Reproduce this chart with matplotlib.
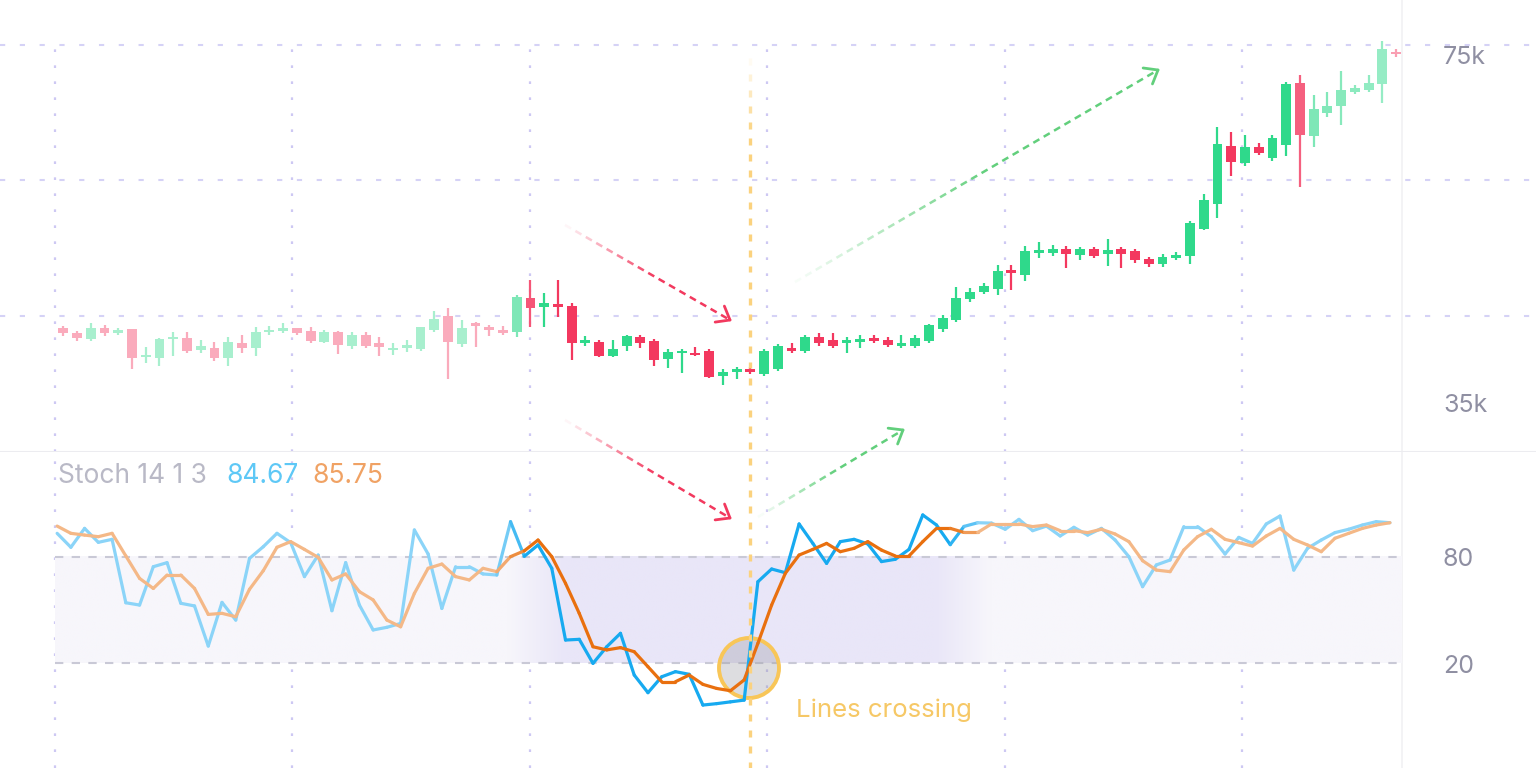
import numpy as np
import matplotlib
matplotlib.use("Agg")
import matplotlib.pyplot as plt
from matplotlib.collections import LineCollection
from matplotlib.patches import Ellipse
from matplotlib.lines import Line2D
from matplotlib.colors import to_rgb
from matplotlib import transforms

plt.rcParams['font.family'] = ['Inter', 'DejaVu Sans']

# ---- data (prices in thousands) ----
opens = [43.63, 43.14, 42.44, 43.63, 43.14, 43.58, 40.41, 40.34, 42.44, 42.59,
         41.22, 41.48, 40.34, 42.03, 41.41, 43.22, 43.36, 43.63, 43.36, 42.14,
         43.22, 41.67, 42.89, 42.03, 41.22, 41.45, 41.33, 43.44, 44.99, 41.89,
         44.18, 43.74, 43.44, 43.25, 46.95, 46.02, 46.28, 46.10, 42.03, 42.14,
         40.59, 41.67, 42.63, 42.25, 40.19, 40.86, 40.92, 41.11, 38.34, 38.82,
         39.09, 38.56, 39.09, 41.48, 41.15, 42.63, 42.33, 41.97, 42.14, 42.52,
         42.33, 41.75, 41.67, 42.25, 43.51, 44.55, 46.84, 47.68, 47.95, 50.08,
         49.53, 52.00, 51.93, 52.44, 51.74, 52.44, 51.85, 52.44, 52.22, 51.26,
         50.74, 51.48, 51.63, 54.58, 57.39, 63.81, 61.96, 63.74, 62.45, 63.92,
         70.76, 64.92, 67.43, 68.24, 69.83, 70.01, 70.68, 74.26]
closes = [43.07, 42.52, 43.63, 43.07, 43.36, 40.30, 40.67, 42.41, 42.70, 41.15,
          41.67, 40.30, 42.11, 41.48, 43.22, 43.44, 43.58, 43.07, 42.25, 43.22,
          41.78, 42.89, 41.67, 41.52, 41.45, 41.75, 43.74, 44.69, 42.08, 43.66,
          43.96, 43.44, 43.07, 47.06, 45.84, 46.39, 45.95, 41.97, 42.33, 40.59,
          41.33, 42.77, 42.03, 40.12, 41.03, 41.11, 40.67, 38.27, 38.82, 39.09,
          38.82, 41.11, 41.67, 41.15, 42.63, 42.03, 41.67, 42.33, 42.44, 42.25,
          41.78, 41.97, 42.52, 43.99, 44.73, 46.95, 47.68, 48.31, 50.00, 49.72,
          52.18, 52.30, 52.37, 51.85, 52.37, 51.63, 52.30, 51.85, 51.19, 50.74,
          51.48, 51.71, 55.25, 57.83, 64.03, 62.07, 63.74, 63.07, 64.67, 70.68,
          65.03, 67.87, 68.24, 70.01, 70.20, 70.76, 74.52, 74.00]
highs = [43.88, 43.36, 44.25, 43.96, 43.69, 43.58, 41.52, 42.60, 43.22, 43.22,
         42.33, 42.11, 42.70, 42.92, 43.74, 43.88, 44.18, 43.70, 43.74, 43.44,
         43.30, 43.22, 43.22, 42.63, 42.03, 42.33, 43.80, 45.58, 45.91, 44.55,
         44.36, 43.96, 43.88, 47.31, 48.97, 47.57, 48.97, 46.39, 42.77, 42.33,
         42.33, 42.89, 42.89, 42.44, 41.30, 41.30, 41.52, 41.33, 39.12, 39.37,
         39.30, 41.30, 41.89, 42.03, 42.89, 43.14, 43.14, 42.70, 42.89, 42.89,
         42.63, 42.89, 42.89, 44.10, 45.10, 48.17, 48.06, 48.61, 50.60, 50.60,
         52.74, 53.22, 52.85, 52.74, 52.66, 52.66, 53.48, 52.66, 52.37, 51.55,
         51.85, 52.08, 55.54, 58.49, 65.88, 65.41, 65.04, 64.11, 65.04, 70.93,
         71.67, 69.46, 69.83, 72.15, 70.57, 71.67, 75.47, 74.52]
lows = [42.81, 42.25, 42.19, 42.81, 42.85, 39.09, 39.82, 39.45, 40.56, 40.92,
        40.86, 40.04, 39.45, 40.86, 40.56, 42.89, 43.07, 42.85, 41.97, 41.97,
        40.79, 41.37, 41.41, 40.56, 40.64, 41.03, 41.07, 43.18, 38.04, 41.59,
        41.59, 42.77, 42.85, 42.63, 43.74, 43.74, 44.84, 40.12, 41.67, 40.50,
        40.50, 41.15, 41.41, 39.45, 39.20, 38.64, 40.60, 38.09, 37.35, 37.97,
        38.56, 38.34, 38.93, 40.92, 40.86, 41.67, 41.41, 40.86, 41.41, 42.03,
        41.52, 41.41, 41.41, 42.03, 43.25, 44.29, 46.57, 47.42, 47.28, 47.87,
        48.90, 51.38, 51.63, 50.27, 51.19, 51.38, 50.53, 50.27, 50.89, 50.37,
        50.37, 51.19, 50.74, 54.50, 55.81, 60.49, 61.60, 62.81, 62.19, 62.70,
        59.24, 63.67, 67.06, 66.11, 69.57, 69.83, 68.54, 73.70]

stoch_k = [93.4, 85.5, 96.2, 88.3, 90.0, 54.1, 52.8, 74.5, 76.8, 53.8,
           52.3, 29.6, 54.3, 44.3, 79.2, 85.8, 93.4, 88.1, 68.9, 81.1,
           49.6, 76.8, 52.8, 38.7, 40.2, 42.4, 95.3, 81.7, 50.9, 74.5,
           74.5, 70.4, 69.8, 100.0, 80.4, 86.8, 73.6, 33.0, 33.4, 19.8,
           29.2, 36.8, 13.2, 3.2, 12.2, 15.1, 13.6, -3.8, -3.0, -2.0,
           -1.0, 66.0, 73.2, 71.1, 98.7, 87.7, 76.4, 88.7, 90.0, 87.4,
           77.4, 78.7, 84.3, 103.8, 98.1, 87.0, 97.3, 99.4, 99.2, 95.7,
           101.3, 94.9, 97.5, 91.9, 96.8, 92.4, 96.2, 89.6, 80.2, 63.2,
           75.5, 78.3, 97.2, 97.2, 91.5, 81.7, 91.1, 87.7, 98.7, 103.2,
           72.6, 84.9, 89.6, 93.8, 95.7, 98.1, 100.0, 99.4]
stoch_d = [97.5, 93.4, 92.4, 91.5, 93.4, 80.6, 67.9, 62.2, 69.8, 69.8,
           62.2, 47.5, 48.1, 46.2, 61.7, 72.2, 85.5, 88.7, 84.3, 79.8,
           67.0, 70.4, 60.4, 55.7, 44.3, 40.5, 59.4, 73.6, 76.0, 68.9,
           67.0, 73.6, 71.7, 80.2, 83.5, 89.6, 80.2, 65.1, 48.1, 29.2,
           27.4, 28.7, 26.4, 17.9, 9.4, 9.4, 13.2, 7.9, 5.6, 4.3,
           10.4, 31.1, 52.8, 70.8, 81.1, 84.3, 87.7, 83.0, 84.9, 88.7,
           83.9, 80.6, 80.6, 88.7, 96.2, 96.2, 93.9, 93.9, 98.7, 98.7,
           98.7, 97.2, 98.1, 94.9, 94.9, 93.8, 95.7, 93.0, 88.7, 77.9,
           72.6, 71.7, 84.0, 91.5, 95.7, 90.0, 88.1, 86.2, 91.9, 96.2,
           90.0, 86.8, 83.0, 90.6, 93.4, 96.2, 98.1, 99.4]

price_labels = [("75k", 73.6), ("35k", 35.1)]
stoch_levels = [80, 20]
price_grid = [45, 60, 75]
cross_idx = 50

# ---- layout ----
W, H = 1536, 768
fig = plt.figure(figsize=(W / 100, H / 100), dpi=100)
ax_p = fig.add_axes([0, 1 - 452 / H, 1, 452 / H])
ax_s = fig.add_axes([0, 0, 1, 316 / H])
for ax in (ax_p, ax_s):
    ax.set_xlim(-4.607, 107.18)
    ax.axis('off')
ax_p.set_ylim(29.93, 79.98)
ax_s.set_ylim(-39.43, 139.43)

GREEN = to_rgb('#2fd98b')
RED = to_rgb('#f3385f')
BLUE = to_rgb('#17aaf0')
ORANGE = to_rgb('#e9700f')
GRIDC = '#cdc8f3'


def fade(col, a):
    return tuple(a * c + (1 - a) for c in col)


n = len(opens)
idx = np.arange(n)
vgrid = [-0.6, 16.65, 33.95, 51.2, 68.5, 85.8]
right_edge = 97.43

# grid
for g in vgrid:
    ax_p.vlines(g, 29.93, price_grid[-1], color=GRIDC, lw=1.6, ls=(0, (1.2, 6)), zorder=0)
    ax_s.axvline(g, color=GRIDC, lw=1.6, ls=(0, (1.2, 6)), zorder=0)
for g in price_grid:
    ax_p.axhline(g, color='#d5d2f6', lw=1.5, ls=(0, (2.5, 7)), zorder=0)
ax_p.axhline(29.93, color='#ececf0', lw=1.5)
for ax in (ax_p, ax_s):
    ax.axvline(right_edge, color='#f1f1f4', lw=1.2, zorder=0)

# crossing marker line, fading in at the top
vtrans = transforms.blended_transform_factory(ax_p.transData, fig.transFigure)
ys = np.arange(58, H, 16)
vsegs = [[(cross_idx, 1 - y / H), (cross_idx, 1 - (y + 6.5) / H)] for y in ys]
vcols = [fade(to_rgb('#fbd27e'), float(np.clip((y - 50) / 80, 0.1, 1))) for y in ys]
fig.add_artist(LineCollection(vsegs, colors=vcols, linewidths=2.4, transform=vtrans, zorder=0.5))

# candles
cand_alpha = np.interp(idx, [32, 33, 34, 35, 89, 90, 91, 97], [0.42, 0.62, 0.85, 1, 1, 0.8, 0.62, 0.48])
for i in range(n):
    o, c, h, l = opens[i], closes[i], highs[i], lows[i]
    col = fade(GREEN if c >= o else RED, cand_alpha[i])
    ax_p.vlines(i, l, h, color=col, lw=1.6, zorder=3)
    bot = min(o, c)
    ht = max(abs(c - o), 0.28)
    if abs(c - o) < 0.28:
        bot = (o + c) / 2 - 0.14
    ax_p.bar(i, ht, bottom=bot, width=0.72, color=col, zorder=4)

# stochastic band with highlighted zone
band = np.linspace(-0.6, right_edge, 600)
hl = np.interp(band, [32.3, 36.5, 63.5, 67.5], [0, 1, 1, 0])
base = np.array(to_rgb('#f7f6fb'))
hi = np.array(to_rgb('#e9e6f8'))
img = (base[None, :] * (1 - hl[:, None]) + hi[None, :] * hl[:, None])[None, :, :]
ax_s.imshow(img, extent=[-0.6, right_edge, stoch_levels[1], stoch_levels[0]],
            aspect='auto', zorder=0.5, interpolation='bilinear')
for lv in stoch_levels:
    ax_s.plot([-0.6, right_edge], [lv, lv], color='#c9c9d6', lw=1.5, ls=(0, (4, 4)), zorder=1)

# crossing circle (below the lines)
ax_s.add_patch(Ellipse((749 / W, 1 - 668 / H), 60 / W, 60 / H, transform=fig.transFigure,
                       facecolor=(0.6, 0.6, 0.63, 0.33), edgecolor='#f8c658', lw=2.8,
                       zorder=2, clip_on=False))

# stoch lines with highlighted middle part
sx = idx - 0.45
line_alpha = np.interp(idx[:-1] + 0.5, [32, 34.5, 65, 67.5], [0.5, 1, 1, 0.5])
for vals, col, z in ((stoch_k, BLUE, 5), (stoch_d, ORANGE, 6)):
    pts = np.column_stack([sx, vals])
    segs = np.stack([pts[:-1], pts[1:]], axis=1)
    cols = [fade(col, a) for a in line_alpha]
    ax_s.add_collection(LineCollection(segs, colors=cols, linewidths=2.3,
                                       zorder=z, capstyle='round', joinstyle='round'))


# dashed arrows in figure pixels
def dashed_arrow(x0, y0, x1, y1, color):
    col = to_rgb(color)
    p0 = np.array([x0, H - y0], float)
    p1 = np.array([x1, H - y1], float)
    d = p1 - p0
    L = np.hypot(*d)
    u = d / L
    t = 0.0
    while t < L - 2:
        te = min(t + 7, L)
        a = min(1.0, 0.05 + t / (0.55 * L))
        s0, s1 = p0 + u * t, p0 + u * te
        fig.add_artist(Line2D([s0[0] / W, s1[0] / W], [s0[1] / H, s1[1] / H],
                              transform=fig.transFigure, color=fade(col, a), lw=1.8,
                              solid_capstyle='butt', zorder=11))
        t += 12
    for ang in (np.radians(38), -np.radians(38)):
        r = np.array([[np.cos(ang), -np.sin(ang)], [np.sin(ang), np.cos(ang)]])
        b = p1 - r @ u * 15
        fig.add_artist(Line2D([p1[0] / W, b[0] / W], [p1[1] / H, b[1] / H],
                              transform=fig.transFigure, color=col, lw=2,
                              solid_capstyle='round', zorder=11))


dashed_arrow(565, 225, 730, 320, '#f2395e')
dashed_arrow(565, 420, 730, 518, '#f2395e')
dashed_arrow(795, 282, 1158, 70, '#62cf7c')
dashed_arrow(758, 517, 903, 430, '#62cf7c')

# texts (nudged 3 px down to sit on the reference baselines)
down = transforms.ScaledTranslation(0, -3 / 100, fig.dpi_scale_trans)
fig.text(58 / W, 1 - 473 / H, "Stoch 14 1 3", color='#b9b9c6', fontsize=19, va='center',
         transform=fig.transFigure + down)
fig.text(226 / W, 1 - 473 / H, "84.67", color='#5ec8f6', fontsize=19, va='center',
         transform=fig.transFigure + down)
fig.text(312 / W, 1 - 473 / H, "85.75", color='#f0a264', fontsize=19, va='center',
         transform=fig.transFigure + down)
for lab, v in price_labels:
    ax_p.text(1443 / W, v, lab, transform=ax_p.get_yaxis_transform(), color='#8f8fa2',
              fontsize=18, va='center')
for lv in stoch_levels:
    ax_s.text(1443 / W, lv, str(lv), transform=ax_s.get_yaxis_transform() + down,
              color='#8f8fa2', fontsize=18, va='center')
fig.text(796 / W, 1 - 707 / H, "Lines crossing", color='#f6c866', fontsize=18.6, va='center',
         transform=fig.transFigure + down)

fig.savefig('out.png', dpi=100, facecolor='white')
